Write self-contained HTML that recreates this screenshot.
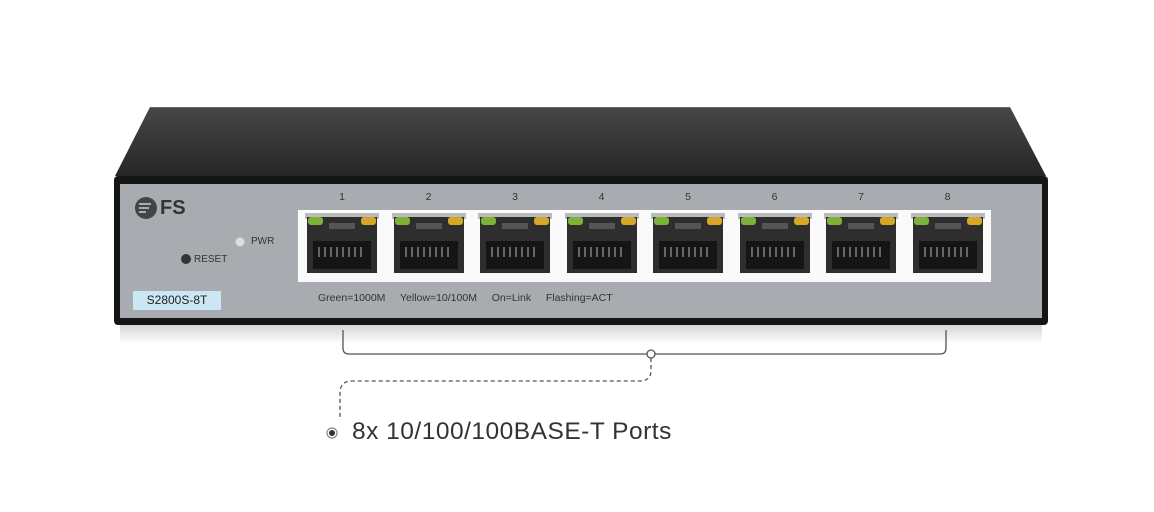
<!DOCTYPE html>
<html><head><style>
body{margin:0;width:1154px;height:512px;background:#fff;overflow:hidden;position:relative;font-family:"Liberation Sans",sans-serif}
.a{position:absolute}
.num{position:absolute;top:191px;font-size:10.5px;color:#333;width:20px;text-align:center}
.port{position:absolute;top:213px;width:74px;height:62px}
</style></head><body>
<svg class="a" style="left:0;top:0" width="1154" height="512">
<defs>
<linearGradient id="tp" x1="0" y1="0" x2="0" y2="1"><stop offset="0" stop-color="#474747"/><stop offset="1" stop-color="#262626"/></linearGradient>
<linearGradient id="sh" x1="0" y1="0" x2="0" y2="1"><stop offset="0" stop-color="#cfcfcf"/><stop offset="1" stop-color="#fff"/></linearGradient>
</defs>
<rect x="120" y="322" width="922" height="22" fill="url(#sh)"/>
<polygon points="150,107 1010,107 1046,176 115,176" fill="url(#tp)"/>
<line x1="150" y1="107.5" x2="1010" y2="107.5" stroke="#666" stroke-width="1"/>
<rect x="114" y="176" width="934" height="149" rx="4" fill="#151515"/>
<rect x="120" y="184" width="922" height="134" fill="#a8abaf"/>
<rect x="298" y="210" width="693" height="72" fill="#fafafa"/>
<path d="M343,330 V348 Q343,354 349,354 H940 Q946,354 946,348 V330" fill="none" stroke="#555" stroke-width="1.3"/>
<path d="M651,358 V370 Q651,381 640,381 H352 Q340,381 340,393 V420" fill="none" stroke="#555" stroke-width="1.3" stroke-dasharray="4,3"/>
<circle cx="651" cy="354" r="4" fill="#fff" stroke="#555" stroke-width="1.3"/>
<circle cx="332" cy="433" r="5" fill="none" stroke="#888" stroke-width="1.2"/>
<circle cx="332" cy="433" r="3" fill="#333"/>
<circle cx="146" cy="208" r="11" fill="#444"/>
<path d="M139,204 h12 M139,208 h10 M139,212 h7" stroke="#a8abaf" stroke-width="2"/>
<circle cx="240" cy="242" r="4.5" fill="#ddd"/>
<circle cx="186" cy="259" r="5" fill="#333"/>
</svg>
<div class="a" style="left:160px;top:197px;font-size:20px;color:#333;font-weight:bold">FS</div>
<div class="a" style="left:251px;top:236px;font-size:10px;color:#333">PWR</div>
<div class="a" style="left:194px;top:254px;font-size:10px;color:#333">RESET</div>
<div class="a" style="left:133px;top:291px;width:88px;height:19px;background:#cbe6f4;font-size:12px;color:#222;text-align:center;line-height:19px">S2800S-8T</div>
<div class="a" style="left:318px;top:292px;font-size:10.5px;color:#333;word-spacing:2px;white-space:pre">Green=1000M   Yellow=10/100M   On=Link   Flashing=ACT</div>
<div class="a" style="left:352px;top:418px;font-size:24.5px;letter-spacing:0.5px;color:#333">8x 10/100/100BASE-T Ports</div>
<div id="ports"></div>
<script>
var h='';
for(var i=0;i<8;i++){var x=305+i*86.5;
h+='<div class="num" style="left:'+(x+27)+'px">'+(i+1)+'</div>';
h+='<svg class="port" style="left:'+x+'px" width="74" height="62"><rect x="0" y="0" width="74" height="6" fill="#bbb"/><rect x="2" y="4" width="70" height="56" fill="#2e2e2e"/><rect x="3" y="4" width="15" height="8" rx="3" fill="#7db23a"/><rect x="56" y="4" width="15" height="8" rx="3" fill="#d7a728"/><rect x="24" y="10" width="26" height="6" fill="#555"/><rect x="8" y="28" width="58" height="28" fill="#151515"/><path d="M14,34 v10 M20,34 v10 M26,34 v10 M32,34 v10 M38,34 v10 M44,34 v10 M50,34 v10 M56,34 v10" stroke="#666" stroke-width="2"/></svg>';}
document.getElementById('ports').innerHTML=h;
</script>
</body></html>
